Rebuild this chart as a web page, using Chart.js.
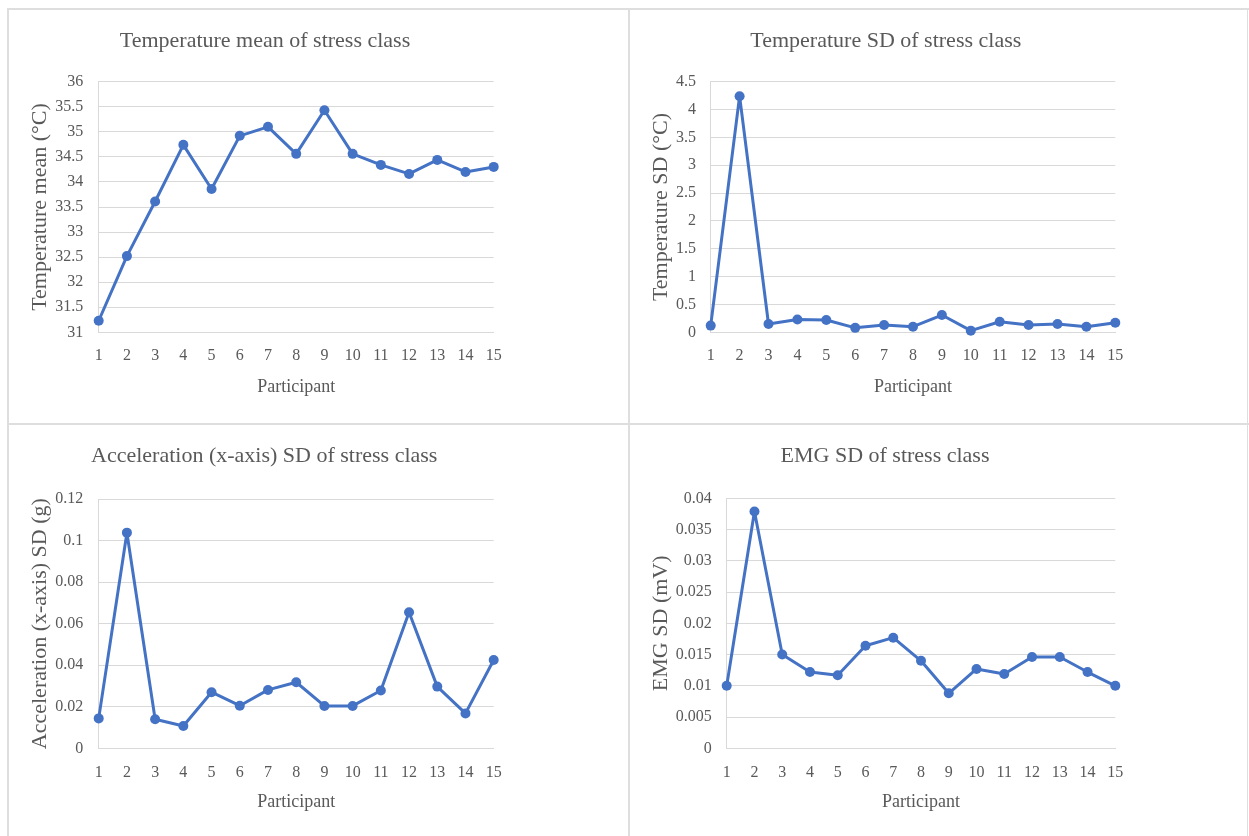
<!DOCTYPE html>
<html>
<head>
<meta charset="utf-8">
<script src="https://cdn.jsdelivr.net/npm/chart.js@4.4.1/dist/chart.umd.min.js"></script>
<style>
  body { margin: 0; background: #fff; width: 1249px; height: 836px; overflow: hidden; position: relative; }
  canvas { position: absolute; }
  .rule { position: absolute; background: #dedede; }
</style>
</head>
<body>
<div class="rule" style="left:7px;top:8px;width:1242px;height:2px"></div>
<div class="rule" style="left:7px;top:8px;width:2px;height:828px"></div>
<div class="rule" style="left:628px;top:8px;width:2px;height:828px"></div>
<div class="rule" style="left:7px;top:423px;width:1242px;height:2px"></div>
<div class="rule" style="left:1247px;top:8px;width:1px;height:828px"></div>

<canvas id="tempMeanChart" width="617" height="412" style="left:10px;top:10px"></canvas>
<canvas id="tempSdChart" width="615" height="412" style="left:631px;top:10px"></canvas>
<canvas id="accelChart" width="617" height="410" style="left:10px;top:426px"></canvas>
<canvas id="emgChart" width="615" height="410" style="left:631px;top:426px"></canvas>

<script>
// participants on the x axis
const participants = ['1', '2', '3', '4', '5', '6', '7', '8', '9', '10', '11', '12', '13', '14', '15'];

// stress class values per participant
const tempMean = [31.23, 32.52, 33.61, 34.74, 33.86, 34.92, 35.10, 34.56, 35.43, 34.56, 34.34, 34.16, 34.44, 34.20, 34.30];
const tempSD = [0.12, 4.24, 0.15, 0.23, 0.22, 0.08, 0.13, 0.10, 0.31, 0.03, 0.19, 0.13, 0.15, 0.10, 0.17];
const accelSD = [0.0144, 0.1038, 0.0140, 0.0107, 0.0270, 0.0205, 0.0281, 0.0318, 0.0204, 0.0204, 0.0278, 0.0655, 0.0297, 0.0168, 0.0425];
const emgSD = [0.0100, 0.0379, 0.0150, 0.0122, 0.0117, 0.0164, 0.0177, 0.0140, 0.0088, 0.0127, 0.0119, 0.0146, 0.0146, 0.0122, 0.0100];

// y tick labels
const tempMeanTicks = [31, 31.5, 32, 32.5, 33, 33.5, 34, 34.5, 35, 35.5, 36];
const tempSDTicks = [0, 0.5, 1, 1.5, 2, 2.5, 3, 3.5, 4, 4.5];
const accelTicks = [0, 0.02, 0.04, 0.06, 0.08, 0.1, 0.12];
const emgTicks = [0, 0.005, 0.01, 0.015, 0.02, 0.025, 0.03, 0.035, 0.04];

const INK = '#595959';
const LINE = '#4472C4';
const GRID = '#d9d9d9';
const SERIF = "'Liberation Serif', 'Times New Roman', serif";
const Y_TITLE_SIZE = 22;

// geo values are page coordinates
function drawPanel(id, geo, title, yTitle, values, ticks) {
    const cv = document.getElementById(id);
    const ox = parseFloat(cv.style.left), oy = parseFloat(cv.style.top);
    const W = cv.width, H = cv.height;
    const [pl, pt, pr, pb] = [geo.plot[0] - ox, geo.plot[1] - oy, geo.plot[2] - ox, geo.plot[3] - oy];
    const titleY = geo.titleY - oy;
    const padL = 2 * (geo.titleX - ox) - pr;

    new Chart(cv.getContext('2d'), {
        type: 'line',
        data: {
            labels: participants,
            datasets: [{
                data: values,
                borderColor: LINE,
                backgroundColor: LINE,
                borderWidth: 3,
                borderJoinStyle: 'round',
                pointRadius: 5,
                pointBorderWidth: 0,
                pointBackgroundColor: LINE,
                tension: 0,
                clip: false
            }]
        },
        options: {
            responsive: false,
            animation: false,
            devicePixelRatio: 1,
            layout: { padding: { left: padL, right: W - pr, top: 0, bottom: 0 } },
            plugins: {
                legend: { display: false },
                tooltip: { enabled: false },
                title: {
                    display: true,
                    text: title,
                    color: INK,
                    font: { family: SERIF, size: 22, weight: 'normal', lineHeight: 1.2 },
                    padding: { top: titleY - 13.2, bottom: pt - titleY - 13.2 }
                }
            },
            scales: {
                x: {
                    offset: false,
                    grid: { display: false, drawTicks: false },
                    border: { display: true, color: GRID, width: 1 },
                    ticks: {
                        color: INK,
                        font: { family: SERIF, size: 16 },
                        padding: geo.xLabelY - geo.plot[3] - 9.6,
                        maxRotation: 0,
                        autoSkip: false
                    },
                    title: {
                        display: true,
                        text: 'Participant',
                        color: INK,
                        font: { family: SERIF, size: 18 },
                        padding: { top: 0, bottom: H - (geo.xTitleY - oy) - 10.8 }
                    },
                    afterFit: s => { s.height = H - pb; }
                },
                y: {
                    min: ticks[0],
                    max: ticks[ticks.length - 1],
                    grid: { color: GRID, lineWidth: 1, drawTicks: false },
                    border: { display: true, color: GRID, width: 1 },
                    afterBuildTicks: s => { s.ticks = ticks.map(v => ({ value: v })); },
                    ticks: {
                        color: INK,
                        font: { family: SERIF, size: 16 },
                        padding: pl - (geo.yLabelRight - ox),
                        callback: v => String(v)
                    },
                    title: {
                        display: true,
                        text: yTitle,
                        color: INK,
                        font: { family: SERIF, size: Y_TITLE_SIZE },
                        padding: { top: geo.yTitleX - ox - padL - Y_TITLE_SIZE * 0.6, bottom: 0 }
                    },
                    afterFit: s => { s.width = pl - padL; }
                }
            }
        }
    });
}

drawPanel('tempMeanChart',
    { plot: [98.7, 81.7, 493.7, 332.3], titleX: 265, titleY: 41, xLabelY: 356, xTitleY: 387, yTitleX: 40, yLabelRight: 83.3 },
    'Temperature mean of stress class', 'Temperature mean (°C)', tempMean, tempMeanTicks);

drawPanel('tempSdChart',
    { plot: [710.7, 81.7, 1115.3, 332.3], titleX: 885.8, titleY: 41, xLabelY: 356, xTitleY: 387, yTitleX: 661.7, yLabelRight: 696 },
    'Temperature SD of stress class', 'Temperature SD (°C)', tempSD, tempSDTicks);

drawPanel('accelChart',
    { plot: [98.7, 499, 493.7, 748.3], titleX: 264.2, titleY: 456.7, xLabelY: 772.7, xTitleY: 802.7, yTitleX: 40.7, yLabelRight: 83.3 },
    'Acceleration (x-axis) SD of stress class', 'Acceleration (x-axis) SD (g)', accelSD, accelTicks);

drawPanel('emgChart',
    { plot: [726.7, 498.3, 1115.3, 748.3], titleX: 885, titleY: 456.7, xLabelY: 772.7, xTitleY: 802.7, yTitleX: 661.7, yLabelRight: 711.7 },
    'EMG SD of stress class', 'EMG SD (mV)', emgSD, emgTicks);
</script>
</body>
</html>
